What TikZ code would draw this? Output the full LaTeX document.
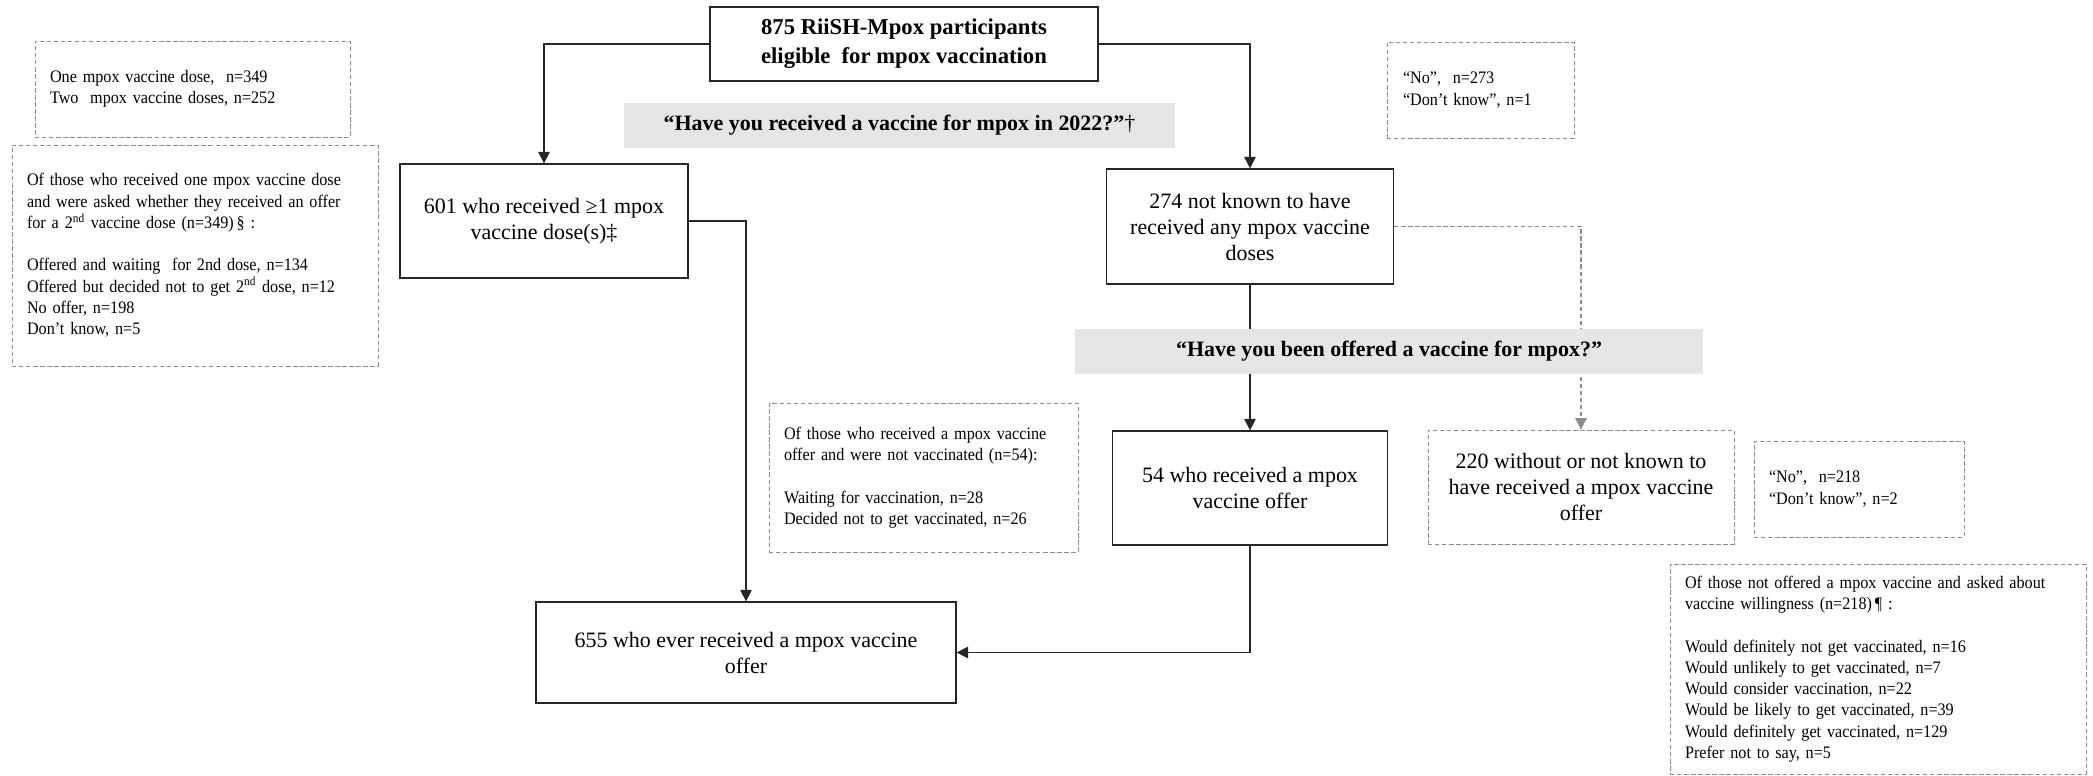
\documentclass[tikz,border=0pt]{standalone}
\usepackage{fontspec}
\setmainfont{Liberation Serif}
\newfontfamily\notefamily{Liberation Serif}[FakeStretch=0.92]
\usetikzlibrary{arrows.meta}

\newcommand\boxfont{\fontsize{12.5}{14.8}\selectfont}
\newcommand\notefont{\notefamily\fontsize{10}{12.1}\selectfont}
\newcommand\topfont{\fontsize{12.9}{16.5}\selectfont\bfseries}
\newcommand\askfont{\fontsize{12.5}{15}\selectfont\bfseries}

\tikzset{
	stage/.style={draw=black!85, line width=0.7pt, align=center, font=\boxfont, inner sep=0pt},
	note/.style={draw=black!45, dash pattern=on 2.5pt off 1.5pt, line width=0.5pt, align=left, font=\notefont, inner ysep=0pt, inner xsep=0.3cm},
	ask/.style={fill=gray!20, inner sep=0pt, font=\askfont},
	flow/.style={-{Triangle[length=6.5pt,width=6.5pt]}, line width=0.6pt, draw=black!85},
}

\begin{document}
\begin{tikzpicture}[x=0.02cm, y=-0.02cm]
		\useasboundingbox (0,0) rectangle (2093,776);
		\node[stage, font=\topfont, minimum width=7.76cm, minimum height=1.48cm] (eligible) at (904,44) {875 RiiSH-Mpox participants\\eligible\ \ for mpox vaccination};
		\node[stage, minimum width=5.76cm, minimum height=2.28cm] (dose601) at (544,221) {601 who received ≥1 mpox\\vaccine dose(s)‡};
		\node[stage, minimum width=5.74cm, minimum height=2.3cm] (notknown) at (1250,226.5) {274 not known to have\\received any mpox vaccine\\doses};
		\node[stage, minimum width=5.5cm, minimum height=2.28cm] (offer54) at (1250,488) {54 who received a mpox\\vaccine offer};
		\node[note, font=\boxfont, align=center, inner xsep=0pt, minimum width=6.12cm, minimum height=2.28cm] (nooffer220) at (1581,487) {220 without or not known to\\have received a mpox vaccine\\offer};
		\node[stage, minimum width=8.4cm, minimum height=2.02cm] (ever655) at (746,652.5) {655 who ever received a mpox vaccine\\offer};

		\node[note, text width=5.7cm, minimum height=1.92cm] (onedose) at (192.5,89) {One mpox vaccine dose,\ \ n=349\\Two\ \ mpox vaccine doses, n=252};
		\node[note, text width=6.72cm, minimum height=4.42cm] (seconddose) at (195,255.5) {Of those who received one mpox vaccine dose\\and were asked whether they received an offer\\for a 2\textsuperscript{nd} vaccine dose (n=349)\,§ :\\[12.1pt]Offered and waiting\ \ for 2nd dose, n=134\\Offered but decided not to get 2\textsuperscript{nd} dose, n=12\\No offer, n=198\\Don’t know, n=5};
		\node[note, inner xsep=0.32cm, text width=3.1cm, minimum height=1.92cm] (no273) at (1480.5,90) {“No”,\ \ n=273\\“Don’t know”, n=1};
		\node[note, text width=5.58cm, minimum height=2.98cm] (waiting54) at (923.5,477.5) {Of those who received a mpox vaccine\\offer and were not vaccinated (n=54):\\[12.1pt]Waiting for vaccination, n=28\\Decided not to get vaccinated, n=26};
		\node[note, text width=3.6cm, minimum height=1.92cm] (no218) at (1859,489) {“No”,\ \ n=218\\“Don’t know”, n=2};
		\node[note, text width=7.72cm, minimum height=4.2cm] (willing) at (1878,669) {Of those not offered a mpox vaccine and asked about\\vaccine willingness (n=218)\,¶ :\\[12.1pt]Would definitely not get vaccinated, n=16\\Would unlikely to get vaccinated, n=7\\Would consider vaccination, n=22\\Would be likely to get vaccinated, n=39\\Would definitely get vaccinated, n=129\\Prefer not to say, n=5};

		\draw[flow] (eligible.west) -| (dose601.north);
		\draw[flow] (eligible.east) -| (notknown.north);
		\draw[flow] (dose601.east) -| (ever655.north);
		\draw[flow] (notknown.south) -- (offer54.north);
		\draw[flow] (offer54.south) |- (ever655.east);
		\draw[flow, draw=black!45, dash pattern=on 2.5pt off 1.5pt] (notknown.east) -| (nooffer220.north);

		\node[ask, minimum width=11.02cm, minimum height=0.9cm] (ask2022) at (899.5,125.5) {“Have you received a vaccine for mpox in 2022?”\textmd{†}};
		\node[ask, minimum width=12.56cm, minimum height=0.9cm] (askoffer) at (1389,351.5) {“Have you been offered a vaccine for mpox?”};
	\end{tikzpicture}
\end{document}
